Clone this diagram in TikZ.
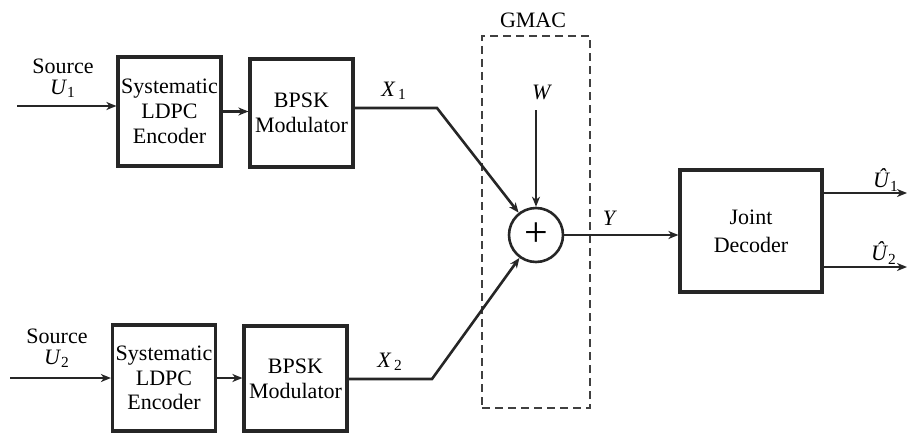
\documentclass[tikz,border=0pt]{standalone}
\usepackage{fontspec}
\setmainfont{Liberation Serif}
\usetikzlibrary{positioning,arrows.meta}
\newcommand{\varsub}[2]{\textit{#1}\textsubscript{#2}}

\begin{document}
\begin{tikzpicture}[
  x=0.5pt, y=-0.5pt,
  font=\rmfamily\fontsize{11}{12.4}\selectfont,
  block/.style = {
    rectangle, draw=black!85, line width=1.6pt, align=center,
    inner sep=1pt, minimum width=51.5pt, minimum height=54pt,
  },
  adder/.style = {
    circle, draw=black!85, line width=1.3pt, minimum size=27pt,
    inner sep=0pt, font=\rmfamily\fontsize{21}{21}\selectfont,
  },
  chanbox/.style = {
    draw=black!75, dash pattern=on 4pt off 2.5pt, line width=0.6pt,
    minimum width=54pt, minimum height=186pt,
  },
  arrow/.style = {-{Stealth[length=5pt,width=4pt,inset=1.5pt]}, line width=1.3pt, draw=black!85},
  lbl/.style = {inner sep=1pt, align=center},
]
  \useasboundingbox (0,0) rectangle (908,433);

  % encoders and modulators
  \node[block, minimum height=54.5pt] (enc1) at (169.5,111.5) {Systematic\\LDPC\\Encoder};
  \node[block] (mod1) at (301.5,113) {BPSK\\Modulator};
  \node[block, minimum height=53pt] (enc2) at (164,378) {Systematic\\LDPC\\Encoder};
  \node[block, minimum height=52.5pt] (mod2) at (295.5,378.5) {BPSK\\Modulator};

  % sources
  \coordinate (src1) at (17,106);
  \coordinate (src2) at (10,378);
  \node[lbl] (src1lbl) at (63,78) {Source\\[-2pt]\varsub{U}{1}};
  \node[lbl] (src2lbl) at (57,348) {Source\\[-2pt]\varsub{U}{2}};
  \draw[arrow] (src1) -- (src1 -| enc1.west);
  \draw[arrow] (src2) -- (src2 -| enc2.west);
  \draw[arrow] (enc1.east) -- (enc1.east -| mod1.west);
  \draw[arrow] (enc2.east) -- (enc2.east -| mod2.west);

  % channel
  \node[chanbox] (gmac) at (536,222) {};
  \node[lbl] (gmaclbl) at (533,20) {GMAC};
  \node[adder] (sum) at (536,235) {+};
  \coordinate (bend1) at (437,108);
  \coordinate (bend2) at (432,379);
  \draw[arrow] (mod1.east |- bend1) -- (bend1) -- (sum);
  \draw[arrow] (mod2.east |- bend2) -- (bend2) -- (sum);
  \node[lbl] (x1lbl) at (394,91) {\varsub{X}{\,1}};
  \node[lbl] (x2lbl) at (390,362) {\varsub{X}{\,2}};
  \coordinate (wtop) at (536,110);
  \node[lbl] (wlbl) at (542,92) {\textit{W}};
  \draw[arrow] (wtop) -- (sum.north);

  % receiver
  \node[block, minimum width=71pt, minimum height=61pt] (dec) at (751,231) {Joint\\[1.5pt]Decoder};
  \draw[arrow] (sum.east) -- (sum.east -| dec.west);
  \node[lbl] (ylbl) at (610,218) {\textit{Y}};
  \coordinate (out1) at (907,193);
  \coordinate (out2) at (907,267);
  \draw[arrow] (dec.east |- out1) -- (out1);
  \draw[arrow] (dec.east |- out2) -- (out2);
  \node[lbl] (u1lbl) at (886,180) {\varsub{\^U}{1}};
  \node[lbl] (u2lbl) at (884,253) {\varsub{\^U}{2}};
\end{tikzpicture}
\end{document}
